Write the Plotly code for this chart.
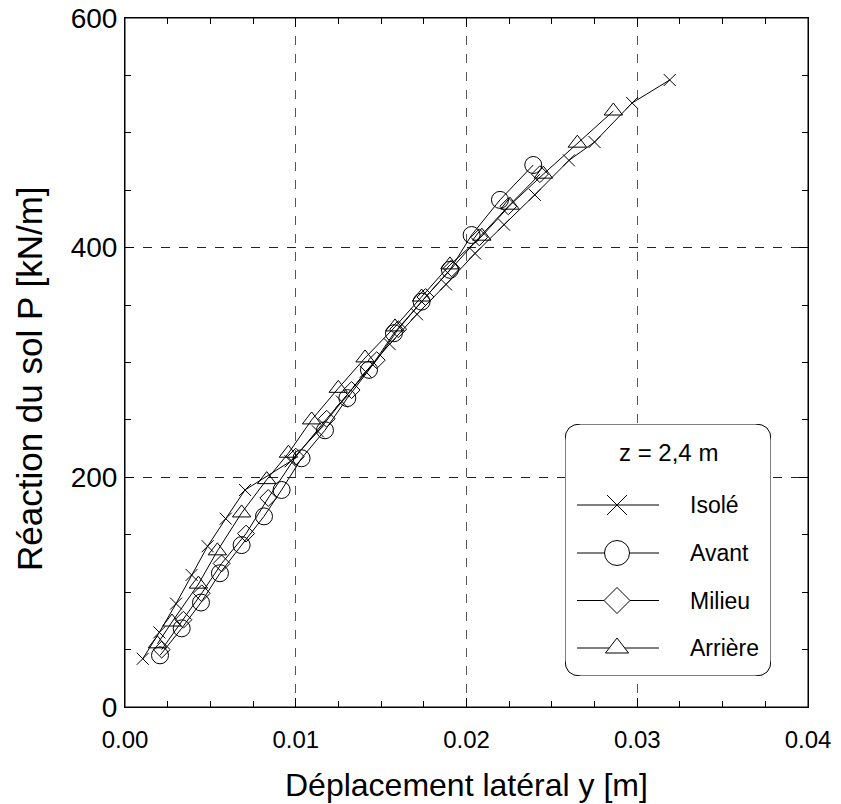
import plotly.graph_objects as go

# ---------------- data ----------------
series_names = ["Isolé", "Avant", "Milieu", "Arrière"]

isole_y = [0.00104, 0.00201, 0.00299, 0.0039, 0.00484, 0.0059, 0.00703, 0.0097, 0.0113, 0.0127,
           0.0141, 0.0155, 0.0171, 0.0188, 0.0205, 0.0222, 0.0240, 0.0260, 0.0275, 0.0297, 0.0319]
isole_p = [42, 65, 90, 115, 140, 164, 189, 214, 240, 266,
           292, 316, 342, 368, 395, 420, 446, 476, 492, 526, 546]

avant_y = [0.00205, 0.00332, 0.00445, 0.00556, 0.00683, 0.00814, 0.00917, 0.01034, 0.01171,
           0.01302, 0.01429, 0.01575, 0.01737, 0.01903, 0.0203, 0.02196, 0.02391]
avant_p = [45, 68.5, 91, 116.5, 141, 166, 189, 216.6, 241,
           269, 293.6, 325.5, 353, 380.7, 411, 441.6, 472]

milieu_y = [0.00215, 0.00342, 0.00449, 0.00566, 0.00709, 0.00839, 0.0100, 0.01181, 0.01327,
            0.01474, 0.0160, 0.0176, 0.01913, 0.02075, 0.02245, 0.0243]
milieu_p = [50, 76, 99, 125, 151, 182, 218, 251, 276,
            302, 329, 357, 382, 409, 436, 464]

arriere_y = [0.0019, 0.00275, 0.0043, 0.00541, 0.00683, 0.0083, 0.00957, 0.01093, 0.01249,
             0.01406, 0.01581, 0.01737, 0.01903, 0.0209, 0.02255, 0.0245, 0.02649, 0.0286]
arriere_p = [55, 74, 107, 136, 169, 198, 221, 250, 277.5,
             304, 331, 357, 385, 410, 437, 464, 491, 519]

x_ticks = [0.00, 0.01, 0.02, 0.03, 0.04]
y_ticks = [0, 200, 400, 600]
legend_title = "z = 2,4 m"
x_title = "Déplacement latéral y [m]"
y_title = "Réaction du sol P [kN/m]"

# ---------------- styles ----------------
FONT = "Liberation Sans, Arial, sans-serif"
symbols = ["x-thin-open", "circle-open", "diamond-open", "triangle-up-open"]
leg_symbols = ["x-thin-open", "circle", "diamond", "triangle-up"]
plot_sizes = [12, 17, 13, 16]
leg_sizes = [20, 25, 20, 20]
data = [(isole_y, isole_p), (avant_y, avant_p), (milieu_y, milieu_p), (arriere_y, arriere_p)]

fig = go.Figure()
for name, (xs, ps), sym, sz in zip(series_names, data, symbols, plot_sizes):
    fig.add_trace(go.Scatter(
        x=xs, y=ps, mode="lines+markers", name=name, showlegend=False,
        line=dict(color="black", width=1),
        marker=dict(symbol=sym, size=sz, color="black", line=dict(color="black", width=1)),
        xaxis="x", yaxis="y"))

# ---------------- geometry (screen pixels; body margin removed by post_script) ----------------
SCREEN_W, SCREEN_H = 841, 804
PL, PR, PT, PB = 125, 808, 18, 707          # plot frame in screen pixels
pw = PR - PL
ph = PB - PT

# ---------------- custom legend (pixel-like axes x2/y2) ----------------
L, R, T, B = 565, 771, 424, 676
rows = [505, 553, 600.5, 648]
line_x0, line_x1, mark_x, text_x = 577, 659, 617, 688

for name, sym, sz, ry in zip(series_names, leg_symbols, leg_sizes, rows):
    fig.add_trace(go.Scatter(
        x=[line_x0, line_x1], y=[ry, ry], mode="lines", showlegend=False, hoverinfo="skip",
        line=dict(color="black", width=1), xaxis="x2", yaxis="y2"))
    mcolor = "black" if sym.endswith("open") else "white"
    fig.add_trace(go.Scatter(
        x=[mark_x], y=[ry], mode="markers", showlegend=False, hoverinfo="skip",
        marker=dict(symbol=sym, size=sz, color=mcolor, line=dict(color="black", width=1)),
        xaxis="x2", yaxis="y2"))
    fig.add_annotation(x=text_x, y=ry, xref="x2", yref="y2", text=name, showarrow=False,
                       xanchor="left", yanchor="middle", font=dict(family=FONT, size=23, color="black"))

fig.add_annotation(x=(L + R) / 2, y=452, xref="x2", yref="y2", text=legend_title, showarrow=False,
                   xanchor="center", yanchor="middle", font=dict(family=FONT, size=24, color="black"))

r = 16
path = (f"M {L+r},{T} L {R-r},{T} Q {R},{T} {R},{T+r} L {R},{B-r} Q {R},{B} {R-r},{B} "
        f"L {L+r},{B} Q {L},{B} {L},{B-r} L {L},{T+r} Q {L},{T} {L+r},{T} Z")
fig.add_shape(type="path", path=path, xref="x2", yref="y2", layer="between",
              line=dict(color="black", width=1), fillcolor="white")

# plot frame
fig.add_shape(type="rect", xref="paper", yref="paper", x0=0, x1=1, y0=0, y1=1,
              line=dict(color="black", width=1), fillcolor="rgba(0,0,0,0)", layer="above")

# ---------------- axis titles as annotations ----------------
fig.add_annotation(x=0.5, y=(PB - 785) / ph, xref="paper", yref="paper", text=x_title,
                   showarrow=False, xanchor="center", yanchor="middle",
                   font=dict(family=FONT, size=32, color="black"))
fig.add_annotation(x=(29 - PL) / pw, y=(PB - 379) / ph, xref="paper", yref="paper", text=y_title,
                   showarrow=False, xanchor="center", yanchor="middle", textangle=-90,
                   font=dict(family=FONT, size=35, color="black"))

# ---------------- layout ----------------
fig.update_layout(
    width=SCREEN_W, height=SCREEN_H,
    margin=dict(l=PL, r=SCREEN_W - PR, t=PT, b=SCREEN_H - PB, autoexpand=False),
    plot_bgcolor="white", paper_bgcolor="white",
    font=dict(family=FONT, color="black"),
    xaxis=dict(
        range=[0, 0.04], tickvals=x_ticks, ticktext=[f"{v:.2f}" for v in x_ticks],
        showline=True, linecolor="black", linewidth=1, mirror="allticks",
        ticks="inside", ticklen=9, tickcolor="black", tickwidth=1,
        showgrid=True, gridcolor="#555", griddash="dash", gridwidth=1,
        zeroline=False, tickfont=dict(size=24), ticklabelstandoff=11, automargin=False,
        ticklabeloverflow="allow",
        minor=dict(dtick=0.0025, tick0=0, ticks="inside", ticklen=6, tickcolor="black", showgrid=False),
    ),
    yaxis=dict(
        range=[0, 600], tickvals=y_ticks,
        showline=True, linecolor="black", linewidth=1, mirror="allticks",
        ticks="inside", ticklen=9, tickcolor="black", tickwidth=1,
        showgrid=True, gridcolor="#222", griddash="dash", gridwidth=1,
        zeroline=False, tickfont=dict(size=28), ticklabelstandoff=1, automargin=False,
        ticklabeloverflow="allow",
        minor=dict(dtick=50, tick0=0, ticks="inside", ticklen=6, tickcolor="black", showgrid=False),
    ),
    xaxis2=dict(domain=[(L - PL) / pw, (R - PL) / pw], range=[L, R],
                visible=False, anchor="y2", fixedrange=True),
    yaxis2=dict(domain=[(PB - B) / ph, (PB - T) / ph], range=[B, T],
                visible=False, anchor="x2", fixedrange=True),
    showlegend=False,
)

fig.write_html("out.html", config={"displayModeBar": False},
               post_script="document.body.style.margin='0px';document.body.style.overflow='hidden';")
